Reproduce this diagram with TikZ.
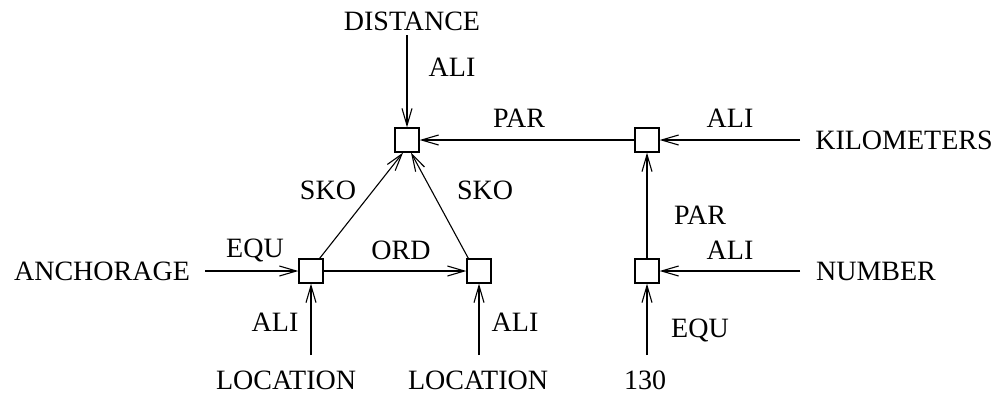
\documentclass[tikz,border=0pt]{standalone}
\usepackage{fontspec}
\setmainfont{Liberation Serif}
\usetikzlibrary{arrows.meta}

\begin{document}
\begin{tikzpicture}[x=1pt,y=-1pt,
    every node/.style={font=\fontsize{28}{30}\selectfont},
    rel/.style={draw=black, line width=1.1pt, -{Straight Barb[length=17pt,width=10pt,line width=1.1pt]}}]
  \useasboundingbox (0,0) rectangle (998,394);
  \begin{scope}[every node/.style={draw,line width=1.3pt,minimum size=24pt,inner sep=0pt}]
    \node (dist) at (407,140) {};
    \node (kilo) at (647,140) {};
    \node (num) at (647,271) {};
    \node (anch) at (311,271) {};
    \node (loc) at (479,271) {};
  \end{scope}
  % words
  \node (wDist) at (412,21) {DISTANCE};
  \node (wKilo) at (904,140) {KILOMETERS};
  \node (wNum) at (876,271) {NUMBER};
  \node (wAnch) at (102,271) {ANCHORAGE};
  \node (wLocA) at (286,380) {LOCATION};
  \node (wLocB) at (478,380) {LOCATION};
  \node (wNr) at (645,380) {130};
  % free ends
  \coordinate (eDist) at (407,35);
  \coordinate (eKilo) at (800,140);
  \coordinate (eNum) at (800,271);
  \coordinate (eAnch) at (205,271);
  \coordinate (eLocA) at (311,355);
  \coordinate (eLocB) at (479,355);
  \coordinate (eNr) at (647,355);
  % connectors
  \draw[rel] (eDist) -- (dist);
  \draw[rel] (kilo) -- (dist);
  \draw[rel] (eKilo) -- (kilo);
  \draw[rel] (num) -- (kilo);
  \draw[rel] (eNum) -- (num);
  \draw[rel] (eNr) -- (num);
  \draw[rel] (eAnch) -- (anch);
  \draw[rel] (anch) -- (loc);
  \draw[rel] (eLocA) -- (anch);
  \draw[rel] (eLocB) -- (loc);
  \draw[rel] (anch.north east) ++(-4,0) -- ([xshift=-4pt]dist.south);
  \draw[rel] (loc.north west) ++(2,0) -- ([xshift=4pt]dist.south);
  % labels
  \node at (452,67) {ALI};
  \node at (519,118) {PAR};
  \node at (730,118) {ALI};
  \node at (328,190) {SKO};
  \node at (485,190) {SKO};
  \node at (700,215) {PAR};
  \node at (730,250) {ALI};
  \node at (255,250) {EQU};
  \node at (401,250) {ORD};
  \node at (275,322) {ALI};
  \node at (515,322) {ALI};
  \node at (700,330) {EQU};
\end{tikzpicture}
\end{document}
